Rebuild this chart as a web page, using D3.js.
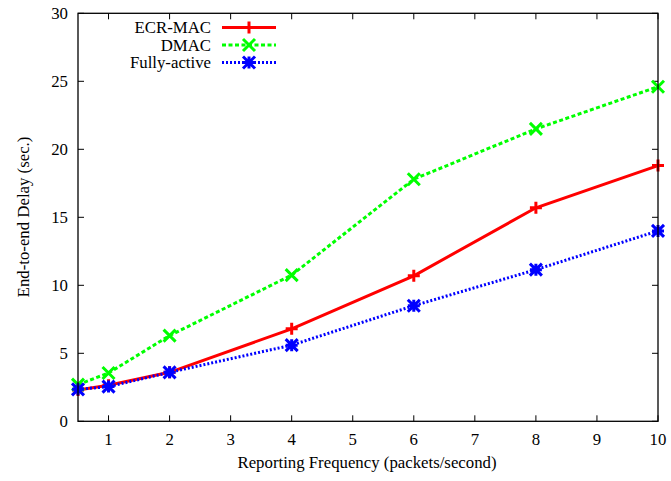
<!DOCTYPE html>
<meta charset="utf-8">
<body style="margin:0;background:#fff">
<script src="https://d3js.org/d3.v7.min.js"></script>
<script>

// data
var freqs = [0.5, 1, 2, 4, 6, 8, 10];
var ecrMac = [2.3, 2.65, 3.6, 6.8, 10.7, 15.7, 18.8];
var dmac = [2.7, 3.55, 6.3, 10.75, 17.8, 21.5, 24.6];
var fullyActive = [2.35, 2.55, 3.6, 5.6, 8.5, 11.15, 14.0];
var xTicks = [1, 2, 3, 4, 5, 6, 7, 8, 9, 10];
var yTicks = [0, 5, 10, 15, 20, 25, 30];

var series = [
  {name: "ECR-MAC", values: ecrMac, color: "#ff0000", dash: null, mark: "plus"},
  {name: "DMAC", values: dmac, color: "#00ff00", dash: "4,2.5", mark: "cross"},
  {name: "Fully-active", values: fullyActive, color: "#0000ff", dash: "2,2", mark: "star"}
];

var W = 671, H = 481;
var x = d3.scaleLinear().domain([0.5, 10]).range([78, 658]);
var y = d3.scaleLinear().domain([0, 30]).range([421.3, 13.3]);

var svg = d3.select("body").append("svg")
    .attr("width", W).attr("height", H)
    .style("font-family", "Liberation Serif")
    .style("font-size", "16.8px");

// ticks (inward, mirrored on all sides)
var tl = 6;
var tg = svg.append("g").attr("stroke", "#000").attr("stroke-width", 1);
xTicks.forEach(function(t) {
  tg.append("line").attr("x1", x(t)).attr("x2", x(t)).attr("y1", y(0)).attr("y2", y(0) - tl);
  tg.append("line").attr("x1", x(t)).attr("x2", x(t)).attr("y1", y(30)).attr("y2", y(30) + tl);
});
yTicks.forEach(function(t) {
  tg.append("line").attr("x1", x(0.5)).attr("x2", x(0.5) + tl).attr("y1", y(t)).attr("y2", y(t));
  tg.append("line").attr("x1", x(10)).attr("x2", x(10) - tl).attr("y1", y(t)).attr("y2", y(t));
});

// tick labels
svg.append("g").selectAll("text").data(xTicks).join("text")
    .attr("x", function(d) { return x(d); })
    .attr("y", 445)
    .attr("text-anchor", "middle")
    .text(function(d) { return d; });
svg.append("g").selectAll("text").data(yTicks).join("text")
    .attr("x", 68)
    .attr("y", function(d) { return y(d) + 6; })
    .attr("text-anchor", "end")
    .text(function(d) { return d; });

// axis titles
svg.append("text")
    .attr("x", 367).attr("y", 468)
    .attr("text-anchor", "middle")
    .text("Reporting Frequency (packets/second)");
svg.append("text")
    .attr("transform", "translate(29," + 217 + ") rotate(-90)")
    .attr("text-anchor", "middle")
    .text("End-to-end Delay (sec.)");

// marker shapes
function marker(g, type, cx, cy, color) {
  var s = 6;
  var p = g.append("path").attr("fill", "none").attr("stroke", color).attr("stroke-width", 3);
  var d = "";
  if (type === "plus" || type === "star")
    d += "M" + (cx - s) + "," + cy + "H" + (cx + s) + "M" + cx + "," + (cy - s) + "V" + (cy + s);
  if (type === "cross" || type === "star")
    d += "M" + (cx - s) + "," + (cy - s) + "L" + (cx + s) + "," + (cy + s) +
         "M" + (cx - s) + "," + (cy + s) + "L" + (cx + s) + "," + (cy - s);
  p.attr("d", d);
}

var line = d3.line()
    .x(function(d, i) { return x(freqs[i]); })
    .y(function(d) { return y(d); });

var plot = svg.append("g");
series.forEach(function(s) {
  var g = plot.append("g");
  g.append("path")
      .attr("d", line(s.values))
      .attr("fill", "none")
      .attr("stroke", s.color)
      .attr("stroke-width", 3)
      .attr("stroke-dasharray", s.dash);
  s.values.forEach(function(v, i) { marker(g, s.mark, x(freqs[i]), y(v), s.color); });
});

// frame
svg.append("rect")
    .attr("x", x(0.5)).attr("y", y(30))
    .attr("width", x(10) - x(0.5)).attr("height", y(0) - y(30))
    .attr("fill", "none").attr("stroke", "#000").attr("stroke-width", 1.3);

// legend
var leg = svg.append("g");
series.forEach(function(s, i) {
  var ly = 27.5 + i * 17.5;
  leg.append("text").attr("x", 211).attr("y", ly + 5.5).attr("text-anchor", "end").text(s.name);
  leg.append("line")
      .attr("x1", 222).attr("x2", 276).attr("y1", ly).attr("y2", ly)
      .attr("stroke", s.color).attr("stroke-width", 3)
      .attr("stroke-dasharray", s.dash);
  marker(leg, s.mark, 249, ly, s.color);
});

</script>
</body>
